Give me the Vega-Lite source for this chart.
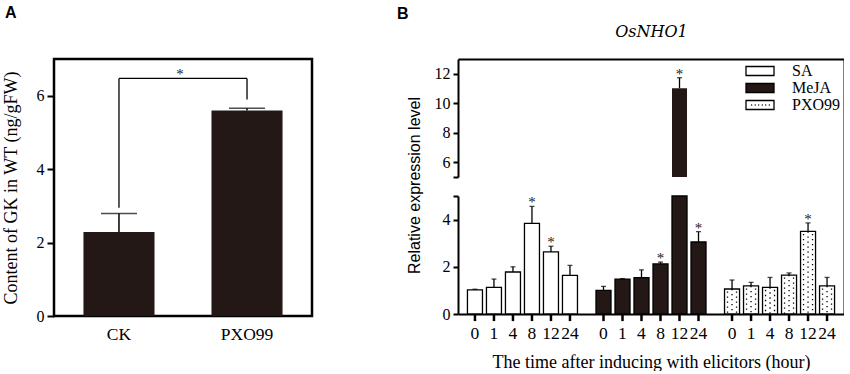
{
  "$schema": "https://vega.github.io/schema/vega-lite/v6.json",
  "background": "white",
  "padding": {"left": 0, "top": 3, "right": 0, "bottom": 0},
  "datasets": {
    "gk": [
      {"group": "CK", "value": 2.29, "hi": 2.79},
      {"group": "PXO99", "value": 5.6, "hi": 5.66}
    ],
    "legs": [
      {"group": "CK", "lo": 2.95, "top": 6.47},
      {"group": "PXO99", "lo": 5.9, "top": 6.47}
    ],
    "bridge": [
      {"from": "CK", "to": "PXO99", "y": 6.47, "mark": "*"}
    ],
    "expr": [
      {"treat": "SA", "time": 0, "value": 1.02, "hi": 1.05, "sig": ""},
      {"treat": "SA", "time": 1, "value": 1.13, "hi": 1.48, "sig": ""},
      {"treat": "SA", "time": 4, "value": 1.78, "hi": 2.0, "sig": ""},
      {"treat": "SA", "time": 8, "value": 3.84, "hi": 4.56, "sig": "*"},
      {"treat": "SA", "time": 12, "value": 2.63, "hi": 2.87, "sig": "*"},
      {"treat": "SA", "time": 24, "value": 1.64, "hi": 2.06, "sig": ""},
      {"treat": "MeJA", "time": 0, "value": 1.0, "hi": 1.17, "sig": ""},
      {"treat": "MeJA", "time": 1, "value": 1.48, "hi": 1.5, "sig": ""},
      {"treat": "MeJA", "time": 4, "value": 1.54, "hi": 1.87, "sig": ""},
      {"treat": "MeJA", "time": 8, "value": 2.12, "hi": 2.2, "sig": "*"},
      {"treat": "MeJA", "time": 12, "value": 11.02, "hi": 11.73, "sig": "*"},
      {"treat": "MeJA", "time": 24, "value": 3.05, "hi": 3.49, "sig": "*"},
      {"treat": "PXO99", "time": 0, "value": 1.06, "hi": 1.44, "sig": ""},
      {"treat": "PXO99", "time": 1, "value": 1.19, "hi": 1.34, "sig": ""},
      {"treat": "PXO99", "time": 4, "value": 1.13, "hi": 1.55, "sig": ""},
      {"treat": "PXO99", "time": 8, "value": 1.65, "hi": 1.74, "sig": ""},
      {"treat": "PXO99", "time": 12, "value": 3.5, "hi": 3.86, "sig": "*"},
      {"treat": "PXO99", "time": 24, "value": 1.19, "hi": 1.55, "sig": ""}
    ]
  },
  "spacing": 83,
  "resolve": {"legend": {"fill": "independent"}},
  "hconcat": [
    {
      "width": 258,
      "height": 257,
      "title": {"text": "A", "offset": 38, "dx": 3},
      "data": {"name": "gk"},
      "view": {"stroke": "black", "strokeWidth": 2.5},
      "encoding": {
        "x": {"field": "group", "type": "nominal", "sort": ["CK", "PXO99"],
              "scale": {"paddingInner": 0.445, "paddingOuter": 0.23},
              "axis": {"title": null, "labelAngle": 0, "ticks": false, "domain": false, "labelFontSize": 17.5, "labelPadding": 9}}
      },
      "layer": [
        {
          "mark": {"type": "bar", "color": "#231815"},
          "encoding": {
            "y": {"field": "value", "type": "quantitative",
                  "scale": {"domain": [0, 7], "nice": false},
                  "axis": {"values": [0, 2, 4, 6], "domain": false, "tickSize": 7, "labelPadding": 3,
                           "title": "Content of GK in WT (ng/gFW)", "titleFontSize": 18, "titlePadding": 16}}
          }
        },
        {
          "mark": {"type": "rule", "color": "black", "strokeWidth": 1.5},
          "encoding": {
            "y": {"field": "value", "type": "quantitative"},
            "y2": {"field": "hi"}
          }
        },
        {
          "mark": {"type": "tick", "color": "black", "thickness": 1.5, "size": 36},
          "encoding": {
            "y": {"field": "hi", "type": "quantitative"}
          }
        },
        {
          "data": {"name": "legs"},
          "mark": {"type": "rule", "color": "black", "strokeWidth": 1.3},
          "encoding": {
            "y": {"field": "lo", "type": "quantitative"},
            "y2": {"field": "top"}
          }
        },
        {
          "data": {"name": "bridge"},
          "mark": {"type": "rule", "color": "black", "strokeWidth": 1.3},
          "encoding": {
            "x": {"field": "from", "type": "nominal"},
            "x2": {"field": "to"},
            "y": {"field": "y", "type": "quantitative"}
          }
        },
        {
          "data": {"name": "bridge"},
          "mark": {"type": "text", "font": "Liberation Serif", "fontSize": 15, "baseline": "alphabetic", "dx": 61, "dy": 1, "color": "#222222"},
          "encoding": {
            "x": {"field": "from", "type": "nominal"},
            "y": {"field": "y", "type": "quantitative"},
            "text": {"field": "mark"}
          }
        }
      ]
    },
    {
      "width": 386,
      "height": 255,
      "title": {"text": "B", "offset": 1, "dx": -9},
      "data": {"name": "expr"},
      "view": {"stroke": null},
      "encoding": {
        "x": {"field": "treat", "type": "nominal", "sort": ["SA", "MeJA", "PXO99"],
              "scale": {"paddingInner": 0.113, "paddingOuter": 0.058}, "axis": null},
        "xOffset": {"field": "time", "type": "ordinal", "scale": {"domain": [0, 1, 4, 8, 12, 24], "paddingInner": 0.21, "paddingOuter": 0.105}}
      },
      "layer": [
        {
          "layer": [
            {
              "mark": {"type": "bar", "stroke": "black", "strokeWidth": 1.3},
              "encoding": {
                "x": {"field": "treat", "type": "nominal", "sort": ["SA", "MeJA", "PXO99"],
                      "axis": {"orient": "bottom", "labels": false, "ticks": false, "title": "The time after inducing with elicitors (hour)", "titleFontSize": 18, "titlePadding": 39}},
                "y": {"field": "value", "type": "quantitative",
                      "scale": {"domain": [0, 5], "range": [255, 137], "clamp": true, "nice": false, "zero": false},
                      "axis": {"orient": "left", "values": [0, 2, 4, 5], "labelExpr": "datum.value == 5 ? '' : datum.label", "tickSize": 5, "labelPadding": 3,
                               "title": "Relative expression level", "titleFont": "Liberation Sans", "titleFontSize": 16, "titleY": 126, "titlePadding": 20}},
                "y2": {"datum": 0},
                "fill": {"field": "treat", "type": "nominal",
                         "scale": {"domain": ["SA", "MeJA", "PXO99"], "range": ["#ffffff", "#231815", "#ffffff"]},
                         "legend": {"title": null, "orient": "none", "legendX": 293, "legendY": 3, "padding": 0,
                                    "labelFont": "Liberation Serif", "labelFontSize": 16, "labelColor": "black", "labelOffset": 23,
                                    "rowPadding": 0, "symbolSize": 256, "symbolStrokeColor": "black", "symbolStrokeWidth": 1.3,
                                    "symbolType": "M-1.75,-0.56H1.75V0.56H-1.75Z",
                                    "encode": {"symbols": {"update": {"shape": {"signal": "datum.value === 'PXO99' ? 'M-1.75,-0.56H1.75V0.56H-1.75Z M-1.1,0h0.12 M-0.66,0h0.12 M-0.22,0h0.12 M0.22,0h0.12 M0.66,0h0.12 M1.1,0h0.12' : 'M-1.75,-0.56H1.75V0.56H-1.75Z'"}}}}}}
              }
            },
            {
              "transform": [{"filter": "datum.treat == 'PXO99'"}],
              "mark": {"type": "rule", "color": "black", "strokeWidth": 1.3, "strokeDash": [1.3, 3.7], "strokeDashOffset": 0},
              "encoding": {
                "y": {"field": "value", "type": "quantitative", "scale": {"domain": [0, 5], "range": [255, 137], "clamp": true, "nice": false, "zero": false}, "axis": null},
                "y2": {"datum": 0}
              }
            },
            {
              "transform": [{"filter": "datum.hi < 5"}],
              "mark": {"type": "rule", "color": "black", "strokeWidth": 1.3},
              "encoding": {
                "y": {"field": "value", "type": "quantitative", "scale": {"domain": [0, 5], "range": [255, 137], "clamp": true, "nice": false, "zero": false}, "axis": null},
                "y2": {"field": "hi"}
              }
            },
            {
              "transform": [{"filter": "datum.hi < 5"}],
              "mark": {"type": "tick", "color": "black", "thickness": 1.3, "size": 5},
              "encoding": {
                "y": {"field": "hi", "type": "quantitative", "scale": {"domain": [0, 5], "range": [255, 137], "clamp": true, "nice": false, "zero": false}, "axis": null}
              }
            },
            {
              "transform": [{"filter": "datum.hi < 5 && datum.sig == '*'"}],
              "mark": {"type": "text", "font": "Liberation Serif", "fontSize": 15, "baseline": "alphabetic", "dy": 1, "color": "#222222"},
              "encoding": {
                "y": {"field": "hi", "type": "quantitative", "scale": {"domain": [0, 5], "range": [255, 137], "clamp": true, "nice": false, "zero": false}, "axis": null},
                "text": {"field": "sig"}
              }
            },
            {
              "mark": {"type": "text", "font": "Liberation Serif", "fontSize": 17.5, "baseline": "alphabetic", "dy": 25, "color": "black"},
              "encoding": {
                "y": {"datum": 0, "type": "quantitative", "scale": {"domain": [0, 5], "range": [255, 137], "clamp": true, "nice": false, "zero": false}, "axis": null},
                "text": {"field": "time", "type": "ordinal"}
              }
            },
            {
              "mark": {"type": "rule", "color": "black", "strokeWidth": 2.5},
              "encoding": {
                "y": {"datum": 0, "type": "quantitative", "scale": {"domain": [0, 5], "range": [255, 137], "clamp": false, "nice": false, "zero": false}, "axis": null},
                "y2": {"datum": -0.3}
              }
            },
            {
              "transform": [{"filter": "datum.value > 5"}],
              "mark": {"type": "bar", "color": "#231815"},
              "encoding": {
                "y": {"field": "value", "type": "quantitative",
                      "scale": {"domain": [5, 13], "range": [118, 0], "clamp": true, "nice": false, "zero": false},
                      "axis": {"orient": "left", "values": [5, 6, 8, 10, 12], "labelExpr": "datum.value == 5 ? '' : datum.label", "tickSize": 5, "labelPadding": 3, "title": null}},
                "y2": {"datum": 5}
              }
            },
            {
              "transform": [{"filter": "datum.value > 5"}],
              "mark": {"type": "rule", "color": "black", "strokeWidth": 1.3},
              "encoding": {
                "y": {"field": "value", "type": "quantitative", "scale": {"domain": [5, 13], "range": [118, 0], "clamp": true, "nice": false, "zero": false}, "axis": null},
                "y2": {"field": "hi"}
              }
            },
            {
              "transform": [{"filter": "datum.value > 5"}],
              "mark": {"type": "tick", "color": "black", "thickness": 1.3, "size": 5},
              "encoding": {
                "y": {"field": "hi", "type": "quantitative", "scale": {"domain": [5, 13], "range": [118, 0], "clamp": true, "nice": false, "zero": false}, "axis": null}
              }
            },
            {
              "transform": [{"filter": "datum.value > 5"}],
              "mark": {"type": "text", "font": "Liberation Serif", "fontSize": 15, "baseline": "alphabetic", "dy": 1, "color": "#222222"},
              "encoding": {
                "y": {"field": "hi", "type": "quantitative", "scale": {"domain": [5, 13], "range": [118, 0], "clamp": true, "nice": false, "zero": false}, "axis": null},
                "text": {"field": "sig"}
              }
            },
            {
              "mark": {"type": "point", "opacity": 0},
              "encoding": {
                "x": {"field": "treat", "type": "nominal", "sort": ["SA", "MeJA", "PXO99"],
                      "axis": {"orient": "top", "labels": false, "ticks": false, "title": "OsNHO1", "titleFont": "DejaVu Serif", "titleFontStyle": "italic", "titleFontSize": 16, "titlePadding": 20}},
                "y": {"datum": 0, "type": "quantitative", "scale": {"domain": [0, 1]},
                      "axis": {"orient": "right", "labels": false, "ticks": false, "title": null}}
              }
            }
          ],
          "resolve": {"scale": {"y": "independent"}, "axis": {"x": "independent", "y": "independent"}}
        },
        {
          "transform": [{"filter": "datum.treat == 'PXO99'"}],
          "mark": {"type": "rule", "color": "black", "strokeWidth": 1.3, "strokeDash": [1.3, 3.7], "strokeDashOffset": 2.5},
          "encoding": {
            "xOffset": {"field": "time", "type": "ordinal", "scale": {"domain": [0, 1, 4, 8, 12, 24], "paddingInner": 0.21, "paddingOuter": 0.105, "range": [-4.5, 109.5]}},
            "y": {"field": "value", "type": "quantitative", "scale": {"domain": [0, 5], "range": [255, 137], "clamp": true, "nice": false, "zero": false}, "axis": null},
            "y2": {"datum": 0}
          }
        },
        {
          "transform": [{"filter": "datum.treat == 'PXO99'"}],
          "mark": {"type": "rule", "color": "black", "strokeWidth": 1.3, "strokeDash": [1.3, 3.7], "strokeDashOffset": 2.5},
          "encoding": {
            "xOffset": {"field": "time", "type": "ordinal", "scale": {"domain": [0, 1, 4, 8, 12, 24], "paddingInner": 0.21, "paddingOuter": 0.105, "range": [4.5, 118.5]}},
            "y": {"field": "value", "type": "quantitative", "scale": {"domain": [0, 5], "range": [255, 137], "clamp": true, "nice": false, "zero": false}, "axis": null},
            "y2": {"datum": 0}
          }
        }
      ],
      "resolve": {"scale": {"y": "independent", "xOffset": "independent"}, "axis": {"x": "independent", "y": "independent"}}
    }
  ],
  "config": {
    "font": "Liberation Serif",
    "axis": {"grid": false, "labelFont": "Liberation Serif", "labelFontSize": 16, "labelColor": "black",
             "titleFont": "Liberation Serif", "titleFontWeight": "normal", "titleColor": "black",
             "domainColor": "black", "domainWidth": 2, "tickColor": "black", "tickWidth": 2},
    "title": {"font": "Liberation Sans", "fontSize": 16, "fontWeight": "bold", "color": "black", "anchor": "start", "frame": "bounds"}
  }
}
